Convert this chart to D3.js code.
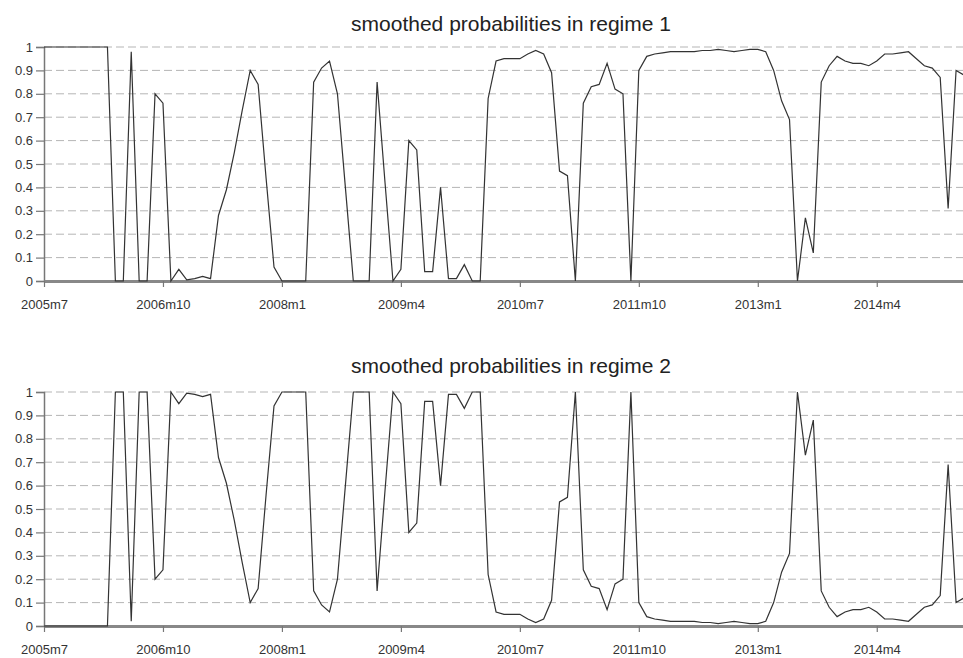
<!DOCTYPE html>
<html>
<head>
<meta charset="utf-8">
<script src="https://cdn.jsdelivr.net/npm/d3@7"></script>
<style>
  body { margin: 0; background: #fff; }
  svg { display: block; font-family: "Liberation Sans", Arial, sans-serif; }
</style>
</head>
<body>
<svg id="chart" width="963" height="658"></svg>
<script>
// months counted from 2005m7 (index 0)
const tickMonths = [0, 15, 30, 45, 60, 75, 90, 105];
const tickLabels = ["2005m7", "2006m10", "2008m1", "2009m4", "2010m7", "2011m10", "2013m1", "2014m4"];
const yTicks = [0, 0.1, 0.2, 0.3, 0.4, 0.5, 0.6, 0.7, 0.8, 0.9, 1];
const yTickLabels = ["0", "0.1", "0.2", "0.3", "0.4", "0.5", "0.6", "0.7", "0.8", "0.9", "1"];

const regime1 = [
  1, 1, 1, 1, 1, 1, 1, 1, 1, 0,
  0, 0.98, 0, 0, 0.8, 0.76, 0, 0.05, 0.005, 0.01,
  0.02, 0.01, 0.28, 0.39, 0.55, 0.73, 0.9, 0.84, 0.44, 0.06,
  0, 0, 0, 0, 0.85, 0.91, 0.94, 0.8, 0.4, 0,
  0, 0, 0.85, 0.42, 0, 0.05, 0.6, 0.56, 0.04, 0.04,
  0.4, 0.01, 0.01, 0.07, 0, 0, 0.78, 0.94, 0.95, 0.95,
  0.95, 0.97, 0.985, 0.97, 0.89, 0.47, 0.45, 0, 0.76, 0.83,
  0.84, 0.93, 0.82, 0.8, 0, 0.9, 0.96, 0.97, 0.975, 0.98,
  0.98, 0.98, 0.98, 0.985, 0.985, 0.99, 0.985, 0.98, 0.985, 0.99,
  0.99, 0.98, 0.9, 0.77, 0.69, 0, 0.27, 0.12, 0.85, 0.92,
  0.96, 0.94, 0.93, 0.93, 0.92, 0.94, 0.97, 0.97, 0.975, 0.98,
  0.95, 0.92, 0.91, 0.87, 0.31, 0.9, 0.88
];

const regime2 = [
  0, 0, 0, 0, 0, 0, 0, 0, 0, 1,
  1, 0.02, 1, 1, 0.2, 0.24, 1, 0.95, 0.995, 0.99,
  0.98, 0.99, 0.72, 0.61, 0.45, 0.27, 0.1, 0.16, 0.56, 0.94,
  1, 1, 1, 1, 0.15, 0.09, 0.06, 0.2, 0.6, 1,
  1, 1, 0.15, 0.58, 1, 0.95, 0.4, 0.44, 0.96, 0.96,
  0.6, 0.99, 0.99, 0.93, 1, 1, 0.22, 0.06, 0.05, 0.05,
  0.05, 0.03, 0.015, 0.03, 0.11, 0.53, 0.55, 1, 0.24, 0.17,
  0.16, 0.07, 0.18, 0.2, 1, 0.1, 0.04, 0.03, 0.025, 0.02,
  0.02, 0.02, 0.02, 0.015, 0.015, 0.01, 0.015, 0.02, 0.015, 0.01,
  0.01, 0.02, 0.1, 0.23, 0.31, 1, 0.73, 0.88, 0.15, 0.08,
  0.04, 0.06, 0.07, 0.07, 0.08, 0.06, 0.03, 0.03, 0.025, 0.02,
  0.05, 0.08, 0.09, 0.13, 0.69, 0.1, 0.12
];

const svg = d3.select("#chart");

const x = d3.scaleLinear().domain([0, 116]).range([44, 964]);

function drawPanel(title, values, top, bottom, titleY) {
  const y = d3.scaleLinear().domain([0, 1]).range([bottom, top]);
  const g = svg.append("g");

  // dashed gridlines
  g.selectAll("line.grid")
    .data(yTicks.filter(d => d > 0))
    .enter().append("line")
    .attr("class", "grid")
    .attr("x1", x(0)).attr("x2", 963)
    .attr("y1", d => y(d)).attr("y2", d => y(d))
    .style("stroke", "#b5b5b5")
    .style("stroke-width", 1)
    .style("stroke-dasharray", "8,4");

  // y axis
  const yAxis = d3.axisLeft(y)
    .tickValues(yTicks)
    .tickFormat((d, i) => yTickLabels[i])
    .tickSize(8)
    .tickPadding(3);
  const ya = g.append("g")
    .attr("transform", `translate(${x(0)},0)`)
    .call(yAxis);
  ya.select(".domain").style("stroke", "#777").style("stroke-width", 1.5);
  ya.selectAll(".tick line").style("stroke", "#777").style("stroke-width", 1.2);
  ya.selectAll(".tick text").style("font-size", "13px").style("fill", "#333");

  // x axis
  const xAxis = d3.axisBottom(x)
    .tickValues(tickMonths)
    .tickFormat((d, i) => tickLabels[i])
    .tickSize(6)
    .tickSizeOuter(0)
    .tickPadding(13);
  const xa = g.append("g")
    .attr("transform", `translate(0,${bottom})`)
    .call(xAxis);
  xa.select(".domain").style("stroke", "#888").style("stroke-width", 3);
  xa.selectAll(".tick line").style("stroke", "#777").style("stroke-width", 1.2);
  xa.selectAll(".tick text").style("font-size", "13px").style("fill", "#333");

  // series
  const line = d3.line()
    .x((d, i) => x(i))
    .y(d => y(d));
  g.append("path")
    .datum(values)
    .attr("d", line)
    .style("fill", "none")
    .style("stroke", "#333")
    .style("stroke-width", 1.2);

  // title
  g.append("text")
    .attr("x", 511)
    .attr("y", titleY)
    .attr("text-anchor", "middle")
    .style("font-size", "21px")
    .style("fill", "#222")
    .text(title);
}

drawPanel("smoothed probabilities in regime 1", regime1, 47, 281, 31);
drawPanel("smoothed probabilities in regime 2", regime2, 392, 626, 373);
</script>
</body>
</html>
